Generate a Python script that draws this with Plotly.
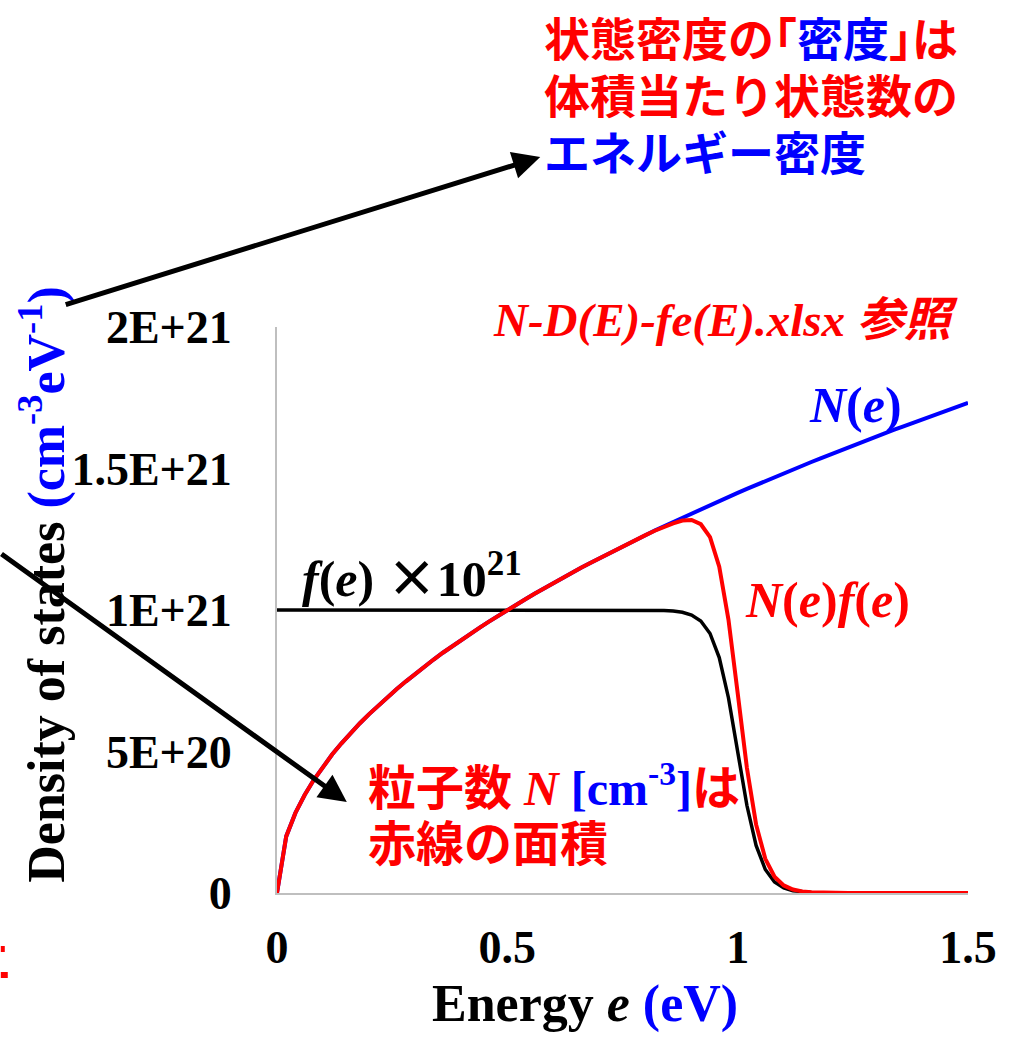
import plotly.graph_objects as go

# Energy grid (eV)
energy = [
    0.00, 0.02, 0.04, 0.06, 0.08, 0.10, 0.12, 0.14, 0.16, 0.18,
    0.20, 0.22, 0.24, 0.26, 0.28, 0.30, 0.32, 0.34, 0.36, 0.38,
    0.40, 0.42, 0.44, 0.46, 0.48, 0.50, 0.52, 0.54, 0.56, 0.58,
    0.60, 0.62, 0.64, 0.66, 0.68, 0.70, 0.72, 0.74, 0.76, 0.78,
    0.80, 0.82, 0.84, 0.86, 0.88, 0.90, 0.92, 0.94, 0.96, 0.98,
    1.00, 1.02, 1.04, 1.06, 1.08, 1.10, 1.12, 1.14, 1.16, 1.18,
    1.20, 1.22, 1.24, 1.26, 1.28, 1.30, 1.32, 1.34, 1.36, 1.38,
    1.40, 1.42, 1.44, 1.46, 1.48, 1.50,
]

# Density of states N(e), in units of 1E+21 cm^-3 eV^-1
dos = [
    0.000, 0.200, 0.283, 0.346, 0.400, 0.447, 0.490, 0.529, 0.566, 0.600,
    0.632, 0.663, 0.693, 0.721, 0.748, 0.775, 0.800, 0.825, 0.849, 0.872,
    0.894, 0.917, 0.938, 0.959, 0.980, 1.000, 1.020, 1.039, 1.058, 1.077,
    1.095, 1.114, 1.131, 1.149, 1.166, 1.183, 1.200, 1.217, 1.233, 1.249,
    1.265, 1.281, 1.296, 1.311, 1.327, 1.342, 1.356, 1.371, 1.386, 1.400,
    1.414, 1.428, 1.442, 1.456, 1.470, 1.483, 1.497, 1.510, 1.523, 1.536,
    1.549, 1.562, 1.575, 1.587, 1.600, 1.612, 1.625, 1.637, 1.649, 1.661,
    1.673, 1.685, 1.697, 1.709, 1.720, 1.732,
]

# Fermi-Dirac occupation f(e)
fermi = [
    1.000, 1.000, 1.000, 1.000, 1.000, 1.000, 1.000, 1.000, 1.000, 1.000,
    1.000, 1.000, 1.000, 1.000, 1.000, 1.000, 1.000, 1.000, 1.000, 1.000,
    1.000, 1.000, 1.000, 1.000, 1.000, 1.000, 1.000, 1.000, 1.000, 1.000,
    1.000, 1.000, 1.000, 1.000, 1.000, 1.000, 1.000, 1.000, 1.000, 1.000,
    0.9997, 0.9993, 0.9983, 0.9963, 0.9918, 0.982, 0.961, 0.917, 0.832, 0.690,
    0.500, 0.310, 0.168, 0.083, 0.039, 0.018, 0.0082, 0.0037, 0.0017, 0.0007,
    0.0003, 0.0001, 0.0, 0.0, 0.0, 0.0, 0.0, 0.0, 0.0, 0.0,
    0.0, 0.0, 0.0, 0.0, 0.0, 0.0,
]

# Occupied states N(e) f(e)
occupied = [n * f for n, f in zip(dos, fermi)]

y_tickvals = [0, 0.5, 1.0, 1.5, 2.0]
y_ticktext = ["0", "5E+20", "1E+21", "1.5E+21", "2E+21"]
x_tickvals = [0, 0.5, 1.0, 1.5]
x_ticktext = ["0", "0.5", "1", "1.5"]

W, H = 1009, 1038
L, R, T, B = 277, 39, 327, 145

SERIF = "Liberation Serif, Noto Sans CJK JP"
CJK = "Noto Sans CJK JP"
RED = "#FF0000"
BLUE = "#0000FF"


def px(x):
    return (x - L) / (W - L - R)


def py(y):
    return (H - B - y) / (H - T - B)


fig = go.Figure()
fig.add_trace(go.Scatter(x=energy, y=dos, mode="lines",
                         line=dict(color=BLUE, width=4), name="N(e)"))
fig.add_trace(go.Scatter(x=energy, y=fermi, mode="lines",
                         line=dict(color="#000000", width=3.5), name="f(e)"))
fig.add_trace(go.Scatter(x=energy, y=occupied, mode="lines",
                         line=dict(color=RED, width=4), name="N(e)f(e)"))

annotations = []


def text(x, y, s, size, family=SERIF, color="#000000", xanchor="center",
         angle=0):
    annotations.append(dict(
        x=px(x), y=py(y), xref="paper", yref="paper", text=s,
        showarrow=False, xanchor=xanchor, yanchor="middle",
        textangle=angle, font=dict(family=family, size=size, color=color)))


def arrow(x0, y0, x1, y1):
    annotations.append(dict(
        x=px(x1), y=py(y1), xref="paper", yref="paper", text="",
        showarrow=True, ax=x0 - x1, ay=y0 - y1, arrowhead=2,
        arrowsize=1.1, arrowwidth=5, arrowcolor="#000000", standoff=0))


# Axis titles
text(586, 1004,
     f"<b>Energy <i>e</i> <span style='color:{BLUE}'>(eV)</span></b>", 52)
text(42, 585,
     f"<b>Density of states <span style='color:{BLUE}'>"
     f"(cm<sup>-3</sup>eV<sup>-1</sup>)</span></b>", 52, angle=-90)

# Explanatory notes
text(543, 36,
     f"<b>状態密度の｢<span style='color:{BLUE}'>密度</span>｣は</b>", 46,
     family=CJK, color=RED, xanchor="left")
text(543, 93, "<b>体積当たり状態数の</b>", 46, family=CJK, color=RED,
     xanchor="left")
text(543, 150, "<b>エネルギー密度</b>", 46, family=CJK, color=BLUE,
     xanchor="left")
text(962, 320, "<b><i>N-D(E)-fe(E).xlsx 参照</i></b>", 47, color=RED,
     xanchor="right")

# Curve labels
text(857, 405, "<b><i>N</i>(<i>e</i>)</b>", 50, color=BLUE)
text(829, 600, "<b><i>N</i>(<i>e</i>)<i>f</i>(<i>e</i>)</b>", 50, color=RED)
text(300, 574,
     "<b><i>f</i>(<i>e</i>) <span style='font-family:Noto Sans CJK JP'>×</span>"
     "10<sup>21</sup></b>", 50, xanchor="left")

text(366, 785,
     f"<b>粒子数 <i>N</i> <span style='color:{BLUE}'>[cm<sup>-3</sup>]</span>は</b>",
     48, color=RED, xanchor="left")
text(366, 840, "<b>赤線の面積</b>", 48, family=CJK, color=RED, xanchor="left")

arrow(65, 305, 541, 157)
arrow(-30, 553, 347, 802)

shapes = [
    dict(type="rect", xref="paper", yref="paper",
         x0=px(0), x1=px(4), y0=py(952), y1=py(946),
         fillcolor=RED, line=dict(width=0)),
    dict(type="rect", xref="paper", yref="paper",
         x0=px(0), x1=px(7), y0=py(978), y1=py(972),
         fillcolor=RED, line=dict(width=0)),
]

fig.update_layout(
    width=W, height=H,
    margin=dict(l=L, r=R, t=T, b=B, pad=0),
    paper_bgcolor="white", plot_bgcolor="white",
    showlegend=False,
    annotations=annotations,
    shapes=shapes,
    xaxis=dict(
        range=[0, 1.5], tickvals=x_tickvals,
        ticktext=[f"<b>{t}</b>" for t in x_ticktext],
        tickfont=dict(family=SERIF, size=46, color="#000000"),
        showgrid=False, zeroline=False, showline=True,
        linecolor="#BFBFBF", linewidth=2, ticks="",
        ticklabelstandoff=13,
    ),
    yaxis=dict(
        range=[0, 2.0], tickvals=y_tickvals,
        ticktext=[f"<b>{t}</b>" for t in y_ticktext],
        tickfont=dict(family=SERIF, size=46, color="#000000"),
        showgrid=False, zeroline=False, showline=True,
        linecolor="#BFBFBF", linewidth=2, ticks="",
        ticklabelstandoff=34,
    ),
)

fig.write_html("out.html")
